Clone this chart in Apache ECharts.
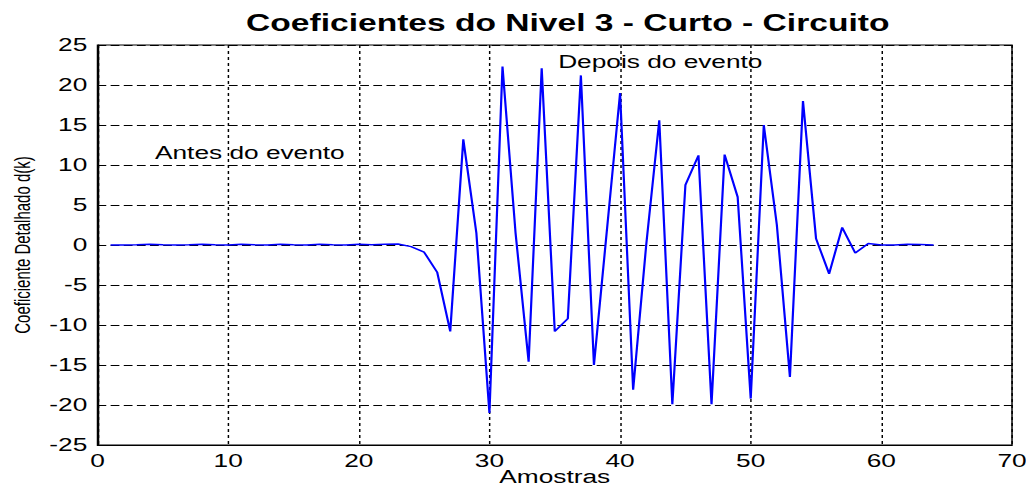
<!DOCTYPE html>
<html>
<head>
<meta charset="utf-8">
<script src="https://cdn.jsdelivr.net/npm/echarts@6/dist/echarts.min.js"></script>
<style>
  html, body { margin: 0; padding: 0; background: #fff; overflow: hidden; }
  #c { width: 703px; height: 487px; transform: scaleX(1.4595); transform-origin: 0 0; }
</style>
</head>
<body>
<div id="c"></div>
<script>
// ---- data ----
const samples = [];
for (let i = 1; i <= 64; i++) samples.push(i);
const coefficients = [
  0, 0, 0.02, 0.1, 0.02, 0, 0.03, 0.1, 0.02, 0,
  0.1, 0.02, 0, 0.1, 0.03, 0, 0.1, 0.02, 0, 0.1,
  0.03, 0.1, 0.12, -0.2, -0.9, -3.4, -10.8, 13.2, 1.5, -21,
  22.3, 1.5, -14.6, 22.1, -10.8, -9.2, 21.2, -15, 2, 19,
  -18.1, 0, 15.6, -19.9, 7.5, 11.2, -19.9, 11.3, 6, -19.2,
  15, 2.5, -16.5, 18, 0.8, -3.6, 2.2, -1, 0.2, 0,
  0, 0.1, 0.05, 0
];
const annotationTexts = ['Antes do evento', 'Depois do evento'];
const annotationX = [4.4, 35.26];
const annotationY = [11.5, 22.9];
const xTicks = { min: 0, max: 70, interval: 10 };
const yTicks = { min: -25, max: 25, interval: 5 };
const titleText = 'Coeficientes do Nivel 3 - Curto - Circuito';
const xName = 'Amostras';
const yName = 'Coeficiente Detalhado d(k)';

// ---- chart ----
const chart = echarts.init(document.getElementById('c'), null, { renderer: 'svg', width: 703, height: 487 });
const font = 'Liberation Sans, Arial, Helvetica, sans-serif';
chart.setOption({
  animation: false,
  backgroundColor: '#ffffff',
  title: {
    text: titleText,
    left: 389,
    textAlign: 'center',
    top: 12,
    padding: 0,
    textStyle: { fontFamily: font, fontWeight: 'bold', fontSize: 23, color: '#000' }
  },
  grid: {
    left: 66.8, right: 9.6, top: 45, bottom: 42,
    containLabel: false,
    outerBoundsMode: 'none',
    show: true, borderColor: '#000', borderWidth: 1, backgroundColor: '#fff'
  },
  xAxis: {
    type: 'value',
    min: xTicks.min, max: xTicks.max, interval: xTicks.interval,
    name: xName, nameLocation: 'middle', nameGap: 23, nameMoveOverlap: false,
    nameTextStyle: { fontFamily: font, fontSize: 18, color: '#000', lineHeight: 18 },
    axisLine: { show: true, onZero: false, lineStyle: { color: '#000', width: 1 } },
    axisTick: { show: false },
    axisLabel: { margin: 7, fontFamily: font, fontSize: 18, color: '#000' },
    splitLine: { show: true, lineStyle: { color: '#000', width: 1, type: [3, 3] } }
  },
  yAxis: {
    type: 'value',
    min: yTicks.min, max: yTicks.max, interval: yTicks.interval,
    name: yName, nameLocation: 'middle', nameGap: 44, nameMoveOverlap: false,
    nameTextStyle: { fontFamily: font, fontSize: 15, color: '#000' },
    axisLine: { show: true, onZero: false, lineStyle: { color: '#000', width: 1 } },
    axisTick: { show: false },
    axisLabel: { margin: 7, fontFamily: font, fontSize: 18, color: '#000' },
    splitLine: { show: true, lineStyle: { color: '#000', width: 1, type: [6, 3] } }
  },
  series: [
    {
      type: 'line',
      data: samples.map((x, i) => [x, coefficients[i]]),
      showSymbol: false,
      lineStyle: { color: '#0000ff', width: 1.5 },
      z: 5
    },
    {
      type: 'scatter',
      data: annotationTexts.map((t, i) => ({ name: t, value: [annotationX[i], annotationY[i]] })),
      symbolSize: 0,
      silent: true,
      itemStyle: { opacity: 1 },
      label: {
        show: true, position: 'right', distance: 0,
        formatter: p => p.name,
        fontFamily: font, fontSize: 18, color: '#000', opacity: 1
      },
      z: 6
    }
  ]
});
</script>
</body>
</html>
